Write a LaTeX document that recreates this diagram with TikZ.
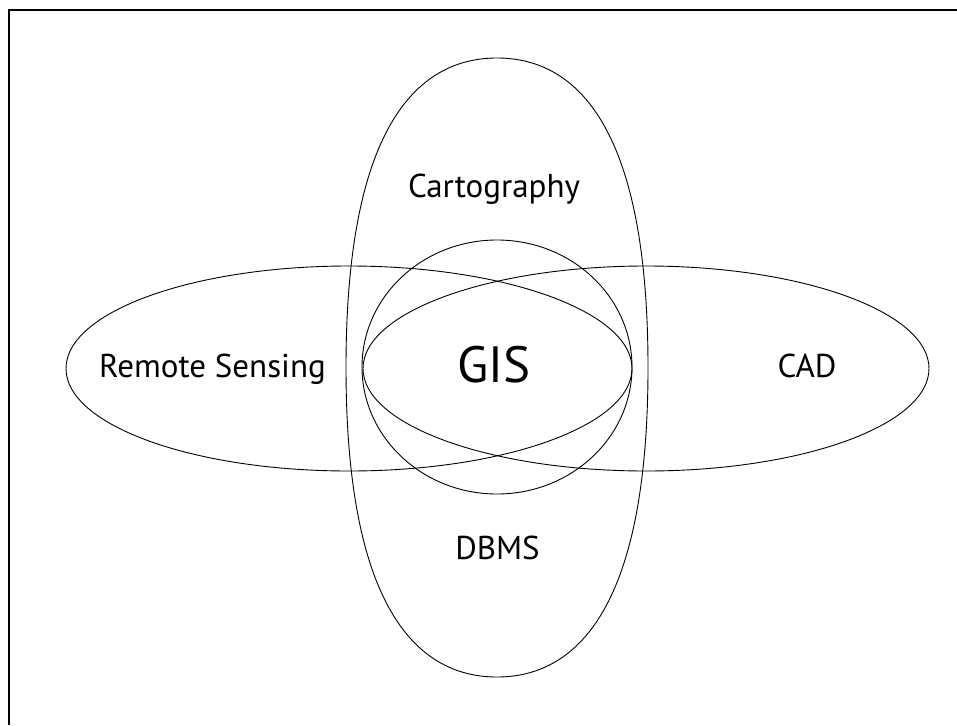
\documentclass[tikz,border=0pt]{standalone}
\usepackage{fontspec}
\setmainfont{PT Sans}
\usetikzlibrary{shapes.geometric}
\tikzset{
  field/.style={ellipse, draw, line width=0.9pt, inner sep=0pt},
  outline/.style={draw, line width=0.9pt},
  label/.style={anchor=base, inner sep=0pt, font=\fontsize{33}{40}\selectfont},
  biglabel/.style={anchor=base, inner sep=0pt, font=\fontsize{51}{60}\selectfont},
  frameline/.style={line width=2pt}
}
\begin{document}
\begin{tikzpicture}[x=1pt,y=-1pt]
  \useasboundingbox (0,0) rectangle (957,725);
  % frame: top and left edges
  \coordinate (fbl) at (9,725);
  \coordinate (ftl) at (9,10);
  \coordinate (ftr) at (957,10);
  \draw[frameline] (fbl) -- (ftl) -- (ftr);
  % tall field: an oval with fuller sides, built from four curves
  \coordinate (vt) at (497,58);
  \coordinate (vr) at (648,367.5);
  \coordinate (vb) at (497,677);
  \coordinate (vl) at (346,367.5);
  \path[outline] (vt)
    .. controls (572.5,58) and (648,119.9) .. (vr)
    .. controls (648,615.1) and (572.5,677) .. (vb)
    .. controls (421.5,677) and (346,615.1) .. (vl)
    .. controls (346,119.9) and (421.5,58) .. (vt) -- cycle;
  % wide fields and the central one
  \node[field, minimum width=566pt, minimum height=205pt] (rs) at (349,368.5) {};
  \node[field, minimum width=566pt, minimum height=205pt] (cad) at (646,368.5) {};
  \node[field, minimum width=270pt, minimum height=254pt] (gis) at (497,367) {};
  % labels
  \node[label] (tcart) at (494,197) {Cartography};
  \node[label] (tdbms) at (497.5,559) {DBMS};
  \node[label] (trs) at (212.5,377.5) {Remote Sensing};
  \node[label] (tcad) at (807,377.5) {CAD};
  \node[biglabel] (tgis) at (494,382) {GIS};
\end{tikzpicture}
\end{document}
